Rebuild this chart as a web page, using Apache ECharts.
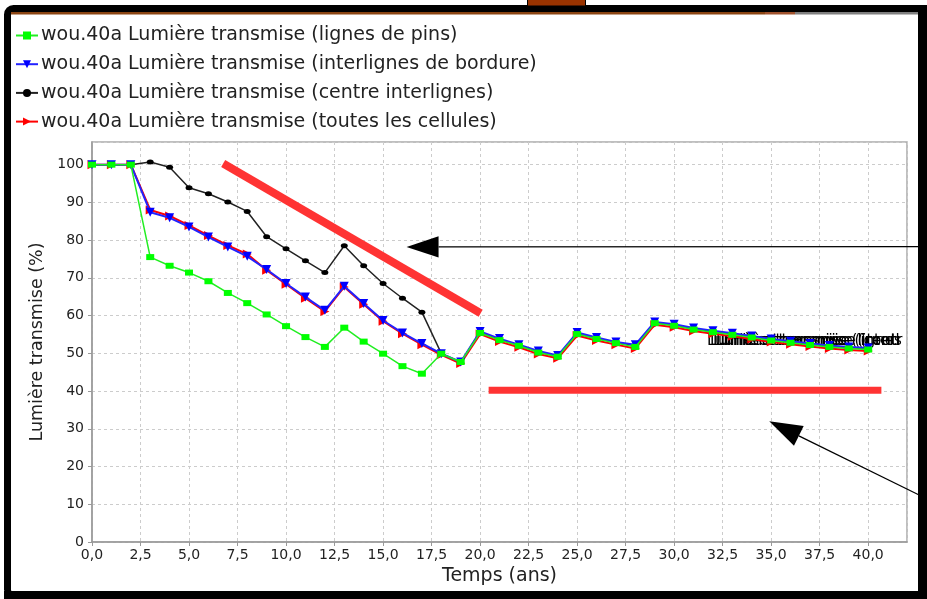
<!DOCTYPE html>
<html>
<head>
<meta charset="utf-8">
<script src="https://cdn.jsdelivr.net/npm/echarts@6/dist/echarts.min.js"></script>
<style>
html,body{margin:0;padding:0;background:#fff;}
#chart{width:927px;height:599px;}
</style>
</head>
<body>
<div id="chart"></div>
<script>
// ---- data ----
var years = [0,1,2,3,4,5,6,7,8,9,10,11,12,13,14,15,16,17,18,19,20,21,22,23,24,25,26,27,28,29,30,31,32,33,34,35,36,37,38,39,40];
var seriesNames = [
  'wou.40a Lumière transmise (lignes de pins)',
  'wou.40a Lumière transmise (interlignes de bordure)',
  'wou.40a Lumière transmise (centre interlignes)',
  'wou.40a Lumière transmise (toutes les cellules)'
];
var lignesPins = [100,100,100,75.5,73.2,71.4,69.1,66.0,63.3,60.3,57.2,54.3,51.7,56.8,53.1,49.9,46.6,44.6,49.9,47.7,55.4,53.5,52.0,50.2,49.1,55.1,53.8,52.7,51.7,58.0,57.3,56.3,55.6,54.9,54.2,53.4,52.8,52.2,51.7,51.3,51.0];
var interlignesBordure = [100,100,100,87.4,85.9,83.5,80.8,78.2,75.7,72.2,68.5,64.9,61.4,67.8,63.2,58.7,55.4,52.6,49.9,47.7,55.8,53.9,52.3,50.6,49.4,55.5,54.2,53.0,52.3,58.3,57.7,56.7,56.0,55.3,54.6,53.8,53.2,52.6,52.1,51.7,51.4];
var centreInterlignes = [100,100,100,100.7,99.3,93.9,92.3,90.1,87.6,80.9,77.7,74.5,71.4,78.5,73.2,68.5,64.6,60.9,50.0,47.6,55.6,53.7,52.1,50.4,49.2,55.3,54.0,52.9,52.1,58.1,57.5,56.5,55.8,55.1,54.4,53.6,53.0,52.4,51.9,51.5,51.2];
var toutesCellules = [100,100,100,88.0,86.4,83.9,81.2,78.6,76.3,72.0,68.3,64.6,61.1,67.6,63.0,58.5,55.2,52.3,49.6,47.3,55.1,53.1,51.6,49.8,48.7,54.7,53.4,52.3,51.3,57.6,56.9,55.9,55.2,54.5,53.8,53.0,52.4,51.8,51.3,50.9,50.6];
var endLabels = [
  'Lumière transmise (lignes de pins)',
  'Lumière transmise (interlignes de bordure)',
  'Lumière transmise (centre interlignes)',
  'Lumière transmise (toutes les cellules)'
];
// annotation lines (data units)
var redDiagonal = [[6.76, 100.3], [20.03, 60.6]];
var redHorizontal = [[20.44, 40.2], [40.68, 40.2]];
var arrow1 = {tip: [16.21, 78.2], tail: [43.2, 78.3]};
var arrow2 = {tip: [34.9, 32.0], tail: [43.2, 11.0]};

function pairs(ys){ return years.map(function(x,i){ return [x, ys[i]]; }); }

var FONT = 'DejaVu Sans';
var chart = echarts.init(document.getElementById('chart'), null, {renderer:'canvas'});

var option = {
  backgroundColor: '#fff',
  animation: false,
  textStyle: {fontFamily: FONT},
  legend: {
    orient: 'vertical',
    left: 10, top: 21,
    itemWidth: 22, itemHeight: 10, itemGap: 9.7,
    data: seriesNames,
    textStyle: {fontFamily: FONT, fontSize: 19, color: '#222', lineHeight: 19, padding: [0,0,0,-2]}
  },
  grid: {left: 92, top: 142, right: 20, bottom: 57, show: true, borderColor: '#aaa', borderWidth: 1.5, backgroundColor: '#fff'},
  xAxis: {
    type: 'value', min: 0, max: 42, interval: 2.5,
    name: 'Temps (ans)', nameLocation: 'middle', nameGap: 25,
    nameTextStyle: {fontFamily: FONT, fontSize: 19, color: '#222'},
    axisLine: {show: true, lineStyle: {color: '#999', width: 1.5}},
    axisTick: {show: true, length: 4, lineStyle: {color: '#999'}},
    axisLabel: {fontFamily: FONT, fontSize: 14, color: '#222', margin: 6, showMaxLabel: false,
      formatter: function(v){ if (Math.abs(v/2.5 - Math.round(v/2.5)) > 1e-6) return ''; return v.toFixed(1).replace('.', ','); }},
    splitLine: {show: true, lineStyle: {color: '#ccc', type: [3,3], width: 1}}
  },
  yAxis: {
    type: 'value', min: 0, max: 106, interval: 10,
    name: 'Lumière transmise (%)', nameLocation: 'middle', nameGap: 44, nameRotate: 90,
    nameTextStyle: {fontFamily: FONT, fontSize: 17.5, color: '#222'},
    axisLine: {show: true, lineStyle: {color: '#999', width: 1.5}},
    axisTick: {show: true, length: 4, lineStyle: {color: '#999'}},
    axisLabel: {fontFamily: FONT, fontSize: 14, color: '#222', margin: 8, showMaxLabel: false,
      formatter: function(v){ if (v % 10 !== 0) return ''; return String(v); }},
    splitLine: {show: true, lineStyle: {color: '#ccc', type: [3,3], width: 1}}
  },
  series: [
    {name: seriesNames[2], type: 'line', z: 2, data: pairs(centreInterlignes), color: '#000',
      symbol: 'circle', symbolSize: [7,5], lineStyle: {width: 1.5, color: '#222'}, itemStyle: {color: '#000'}},
    {name: seriesNames[3], type: 'line', z: 3, data: pairs(toutesCellules), color: '#ff0000',
      symbol: 'triangle', symbolRotate: -90, symbolSize: 9, lineStyle: {width: 2, color: '#ff0000'}, itemStyle: {color: '#ff0000'}},
    {name: seriesNames[1], type: 'line', z: 4, data: pairs(interlignesBordure), color: '#0000ff',
      symbol: 'triangle', symbolRotate: 180, symbolSize: 9, lineStyle: {width: 2, color: '#2222ff'}, itemStyle: {color: '#0000ff'}},
    {name: seriesNames[0], type: 'line', z: 5, data: pairs(lignesPins), color: '#00ff00',
      symbol: 'rect', symbolSize: [8,6], lineStyle: {width: 1.5, color: '#22ee22'}, itemStyle: {color: '#00ff00'}}
  ]
};
chart.setOption(option);

function px(p){ return chart.convertToPixel({gridIndex: 0}, p); }
function arrowShapes(a, len, half){
  var t = px(a.tip), e = px(a.tail);
  var dx = e[0]-t[0], dy = e[1]-t[1], d = Math.sqrt(dx*dx+dy*dy);
  var ux = dx/d, uy = dy/d;
  var bx = t[0]+ux*len, by = t[1]+uy*len;
  return [
    {type:'line', z: 120, shape:{x1: bx, y1: by, x2: e[0], y2: e[1]}, style:{stroke:'#000', lineWidth: 1.3}},
    {type:'polygon', z: 121, shape:{points:[[t[0],t[1]],[bx - uy*half, by + ux*half],[bx + uy*half, by - ux*half]]}, style:{fill:'#000'}}
  ];
}

var g = [];
// end labels jumble
var labelStarts = [707, 710, 713, 716];
endLabels.forEach(function(t, i){
  g.push({type:'text', z: 1, x: labelStarts[i], y: 341, style:{text: t, fill:'#000', font: '15px "DejaVu Sans"', verticalAlign:'middle', width: 906 - labelStarts[i], overflow:'truncate', ellipsis: ''}});
});
// red annotation lines
var d1 = px(redDiagonal[0]), d2 = px(redDiagonal[1]);
g.push({type:'line', z: 110, shape:{x1:d1[0], y1:d1[1], x2:d2[0], y2:d2[1]}, style:{stroke:'#ff3333', lineWidth: 8}});
var h1 = px(redHorizontal[0]), h2 = px(redHorizontal[1]);
g.push({type:'line', z: 110, shape:{x1:h1[0], y1:h1[1], x2:h2[0], y2:h2[1]}, style:{stroke:'#ff3333', lineWidth: 7}});
g = g.concat(arrowShapes(arrow1, 32, 10.7));
g = g.concat(arrowShapes(arrow2, 33, 11));
// frame decorations
g.push({type:'rect', z: 200, shape:{x:7.5, y:8.5, width:918, height:587, r:6}, style:{fill:'none', stroke:'#000', lineWidth:7}});
g.push({type:'rect', z: 200, shape:{x:918, y:5, width:9, height:594}, style:{fill:'#000'}});
g.push({type:'rect', z: 200, shape:{x:4, y:591, width:923, height:8}, style:{fill:'#000'}});
g.push({type:'rect', z: 201, shape:{x:11, y:12, width:754, height:2.5}, style:{fill:'#8b4513'}});
g.push({type:'rect', z: 201, shape:{x:765, y:12, width:30, height:2.5}, style:{fill:'#a0522d'}});
g.push({type:'rect', z: 201, shape:{x:795, y:12, width:123, height:2.5}, style:{fill:'#808080'}});
g.push({type:'rect', z: 202, shape:{x:527.5, y:-1, width:58, height:7}, style:{fill:'#993300', stroke:'#000', lineWidth:1}});
chart.setOption({graphic: g});
</script>
</body>
</html>
